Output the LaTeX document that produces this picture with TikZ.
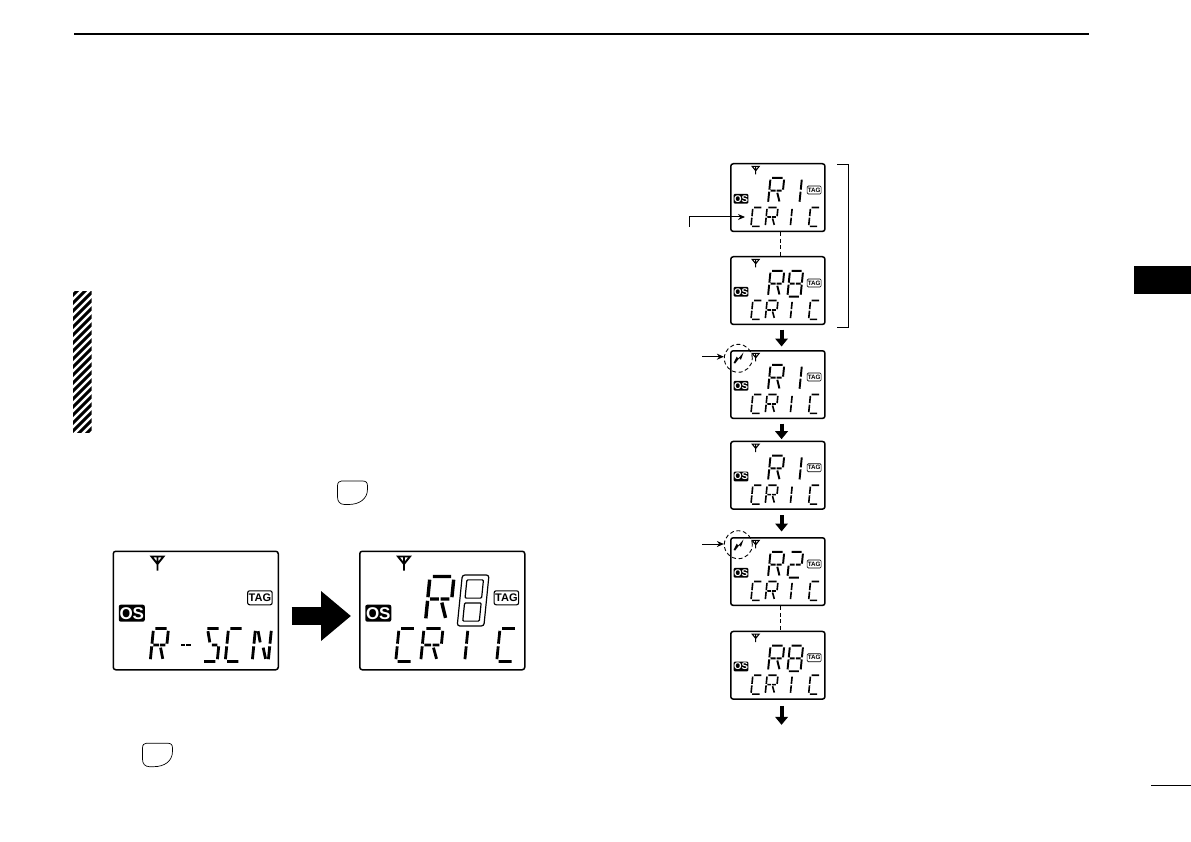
\documentclass[tikz,border=0pt]{standalone}
\usepackage{fontspec}
\setmainfont{Liberation Sans}
\usetikzlibrary{arrows.meta,calc}
\tikzset{
  pagerule/.style={draw=black,line width=1.8pt},
  lcdframe/.style={draw=black,fill=white,rounded corners=2.5pt,anchor=north west,inner sep=0pt},
  bigarrow/.style={line width=4pt,-{Triangle[length=8pt,width=12.5pt]}},
  fatarrow/.style={line width=18pt,-{Triangle[length=30pt,width=48pt]}},
  thinarrow/.style={line width=1pt,-{Stealth[length=7pt,width=6pt]}},
  dashlink/.style={line width=.9pt,dash pattern=on 4pt off 2.6pt},
  sigring/.style={circle,draw=black,line width=.9pt,dash pattern=on 4pt off 2.6pt,minimum size=28pt,inner sep=0pt},
  keyshape/.style={draw=black,line width=.7pt,fill=white},
}
% segments of a character cell (0..1 across, 0..1 down)
\def\sA{(.12,0)--(.88,0)}
\def\sB{(1,.07)--(1,.46)}
\def\sC{(1,.54)--(1,.93)}
\def\sD{(.12,1)--(.88,1)}
\def\sE{(0,.54)--(0,.93)}
\def\sF{(0,.07)--(0,.46)}
\def\sG{(.1,.5)--(.46,.5)}
\def\sH{(.54,.5)--(.9,.5)}
\def\sK{(.6,.58)--(.82,.92)}
\def\sM{(.18,.08)--(.38,.42)}
\def\gR{\sA\sF\sE\sB\sG\sH\sK}
\def\gC{\sA\sF\sE\sD}
\def\gEight{\sA\sB\sC\sD\sE\sF\sG\sH}
\def\gTwo{\sA\sB\sG\sH\sE\sD}
\def\gOne{(0,.07)--(0,.46) (0,.54)--(0,.93)}
\def\gS{\sA\sM\sC\sD\sH}
\def\gN{\sF\sE\sB\sC\sM\sK}
\def\gDash{\sG\sH}
% hollow 8 of the large display: outer outline with two openings
\def\gHollow{[rounded corners=2.5pt] (-.08,-.03) -- (1.08,-.03) -- (1.08,1.03) -- (-.08,1.03) -- cycle
  [rounded corners=1pt] (.14,.07) -- (.86,.07) -- (.86,.45) -- (.14,.45) -- cycle
  (.14,.55) -- (.86,.55) -- (.86,.93) -- (.14,.93) -- cycle}
% \glyph{x}{y}{w}{h}{segments}{extra style}, all in units of the current display
\newcommand\glyph[6]{%
  \begin{scope}[shift={(#1,#2)},x={(#3*\lcdS pt,0pt)},y={(-.1*#4*\lcdS pt,-#4*\lcdS pt)}]
    \draw[line width=2.8*\lcdS pt,line cap=butt,#6] #5;
  \end{scope}}
% \lcd{name}{x}{y}{scale}{contents}
\newcommand\lcd[5]{%
  \def\lcdS{#4}%
  \pgfmathsetmacro\lcdFo{#4*17}%
  \pgfmathsetmacro\lcdFt{#4*11}%
  \begin{scope}[shift={(#2,#3)}]
    \node[lcdframe,line width=1.5pt,minimum width=#4*165pt,minimum height=#4*118.5pt] (#1) at (0,0) {};
    \begin{scope}[x={(#4 pt,0pt)},y={(0pt,-#4 pt)}]
      \draw[line width=#4*1.9pt,line join=miter] (39,6)--(51,6)--(45,13.5)--cycle (45,6)--(45,20);
      \node[fill=black,text=white,rounded corners=#4*2pt,inner sep=0pt,minimum width=#4*26pt,minimum height=#4*17pt,
            font=\fontsize{\lcdFo pt}{\lcdFo pt}\selectfont\bfseries] (#1os) at (19.3,62.7) {OS};
      \node[draw=black,line width=#4*1.1pt,rounded corners=#4*2pt,inner sep=0pt,minimum width=#4*24.5pt,minimum height=#4*14pt,
            font=\fontsize{\lcdFt pt}{\lcdFt pt}\selectfont\bfseries] (#1tag) at (147.4,47.3) {TAG};
      #5
    \end{scope}
  \end{scope}}
\newcommand\lowerCRIC{%
  \glyph{40}{78}{17}{33}{\gC}{}
  \glyph{65}{78}{19}{33}{\gR}{}
  \glyph{109}{78}{0}{33}{\gOne}{}
  \glyph{141}{78}{17}{33}{\gC}{}}
\newcommand\upperR{\glyph{71}{26}{24}{45}{\gR}{line width=\lcdS*3.4pt}}
\newcommand\upperDigit[1]{\glyph{105}{26}{23}{45}{#1}{line width=\lcdS*3.4pt}}
\newcommand\upperOne{\glyph{126}{26}{0}{45}{\gOne}{line width=\lcdS*3.4pt}}
\newcommand\keyshape[2]{%
  \begin{scope}[shift={(#1,#2)}]
    \draw[keyshape] (4,0)--(25,0) .. controls (28.5,0) and (30,1.5) .. (30,5) -- (30,8)
       .. controls (30,18) and (22,23.5) .. (11,23.5) -- (7,23.5)
       .. controls (2.5,23.5) and (0,20.5) .. (0,16) -- (0,5) .. controls (0,1.5) and (1.5,0) .. (4,0) -- cycle;
  \end{scope}}
\newcommand\sigicon[2]{%
  \fill[black,shift={(#1,#2)}] (0,10.5)--(3.2,4.2)--(4.8,6)--(10,0)--(7.4,7.4)--(5.8,5.6)--(1.6,11)--cycle;}
\begin{document}
\begin{tikzpicture}[x=1pt,y=-1pt]
\useasboundingbox (0,0) rectangle (1191,842);
% page furniture
\draw[pagerule] (74,34)--(1089,34);
\fill[black] (1134,266) rectangle (1191,294.5);
\draw[line width=.9pt] (1151,785.5)--(1191,785.5);
\begin{scope}
  \clip (73,292) rectangle (91.5,432);
  \foreach \k in {0,...,20} {\draw[line width=3pt] (60,{300+8*\k})--(100,{300+8*\k-40});}
\end{scope}
% left displays
\lcd{ls}{112.5}{550.5}{1}{%
  \glyph{41}{78}{15}{33}{\gR}{}
  \glyph{69}{78}{12}{33}{\gDash}{}
  \glyph{93}{78}{15}{33}{\gS}{}
  \glyph{116}{78}{15}{33}{\gC}{}
  \glyph{143}{78}{16}{33}{\gN}{}}
\lcd{rs}{359}{550.5}{1}{%
  \upperR
  \glyph{105}{26}{23}{48}{\gHollow}{line width=1.2pt}
  \lowerCRIC}
\draw[fatarrow] ([xshift=12.5pt,yshift=-5.5pt]ls.east) -- ([xshift=-8pt,yshift=-5.5pt]rs.west);
\keyshape{337.5}{481}
\keyshape{142.5}{743.2}
% right column of displays
\lcd{da}{730}{163}{.571}{\upperR\upperOne\lowerCRIC}
\lcd{db}{730}{256}{.571}{\upperR\upperDigit{\gEight}\lowerCRIC}
\lcd{dc}{730}{350}{.571}{\upperR\upperOne\lowerCRIC}
\lcd{dd}{730}{440.7}{.571}{\upperR\upperOne\lowerCRIC}
\lcd{de}{730}{537}{.571}{\upperR\upperDigit{\gTwo}\lowerCRIC}
\lcd{df}{730}{630.7}{.571}{\upperR\upperDigit{\gEight}\lowerCRIC}
% connectors
\draw[dashlink] ([xshift=3pt]da.south) -- ([xshift=3pt]db.north);
\draw[dashlink] ([xshift=3pt]de.south) -- ([xshift=3pt]df.north);
\draw[bigarrow] ([xshift=3.7pt,yshift=-4.5pt]db.south) -- ([xshift=3.7pt,yshift=3.5pt]dc.north);
\draw[bigarrow] ([xshift=3.7pt,yshift=-4.5pt]dc.south) -- ([xshift=3.7pt,yshift=1.5pt]dd.north);
\draw[bigarrow] ([xshift=3.7pt,yshift=-5.5pt]dd.south) -- ([xshift=3.7pt,yshift=5.5pt]de.north);
\coordinate (dfend) at ([xshift=3.7pt,yshift=-25pt]df.south);
\draw[bigarrow] ([xshift=3.7pt,yshift=-6pt]df.south) -- (dfend);
% bracket
\coordinate (brtop) at (837.3,164.3);
\coordinate (brbot) at (837.3,327.3);
\draw[line width=.9pt] (brtop) -- ++(11,0) |- (brbot);
% signal rings, icons and pointers
\sigicon{733.5}{352.5}
\sigicon{733.5}{539.5}
\node[sigring] (ringc) at (738.3,358.3) {};
\node[sigring] (ringe) at (738.3,544.7) {};
\coordinate (ptrc) at (702,356.7);
\coordinate (ptre) at (702,544);
\draw[thinarrow] (ptrc) -- (ptrc -| ringc.west);
\draw[thinarrow] (ptre) -- (ptre -| ringe.west);
\coordinate (ptra) at (689.3,226.7);
\coordinate (ptrb) at (745,217);
\draw[thinarrow] (ptra) |- (ptrb);
\end{tikzpicture}
\end{document}
